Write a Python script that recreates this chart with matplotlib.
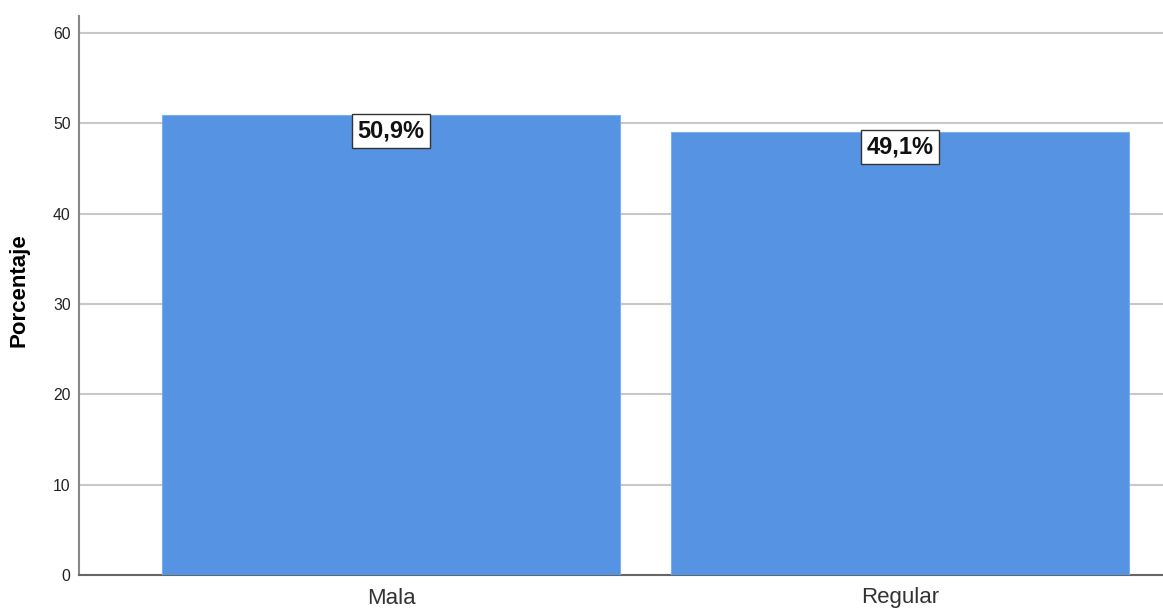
import matplotlib
matplotlib.use("Agg")
import matplotlib.pyplot as plt

categories = ["Mala", "Regular"]
percentages = [50.9, 49.1]
y_ticks = [0, 10, 20, 30, 40, 50, 60]

plt.rcParams['font.family'] = ['Liberation Sans', 'DejaVu Sans']

fig = plt.figure(figsize=(11.63, 6.10), dpi=100)
ax = fig.add_axes([79 / 1163, 1 - 575 / 610, (1163 - 79) / 1163, (575 - 16) / 610])

x = list(range(len(categories)))
ax.bar(x, percentages, width=0.9, color="#5694E3", edgecolor="#7aaeee",
       linewidth=0.8, zorder=3)

for xi, v in zip(x, percentages):
    ax.text(xi, v - 0.45, f"{v:.1f}%".replace(".", ","), ha="center", va="top",
            fontsize=17, fontweight="bold", color="#111111", zorder=5,
            bbox=dict(boxstyle="square,pad=0.24", facecolor="white",
                      edgecolor="#333333", linewidth=1.0))

ax.set_xlim(-0.613, 1.516)
ax.set_ylim(0, 61.9)
ax.set_yticks(y_ticks)
ax.set_xticks(x)
ax.set_xticklabels(categories, fontsize=16, color="#333333")
ax.tick_params(axis="y", labelsize=11.3, length=0, pad=6, colors="#222222")
ax.tick_params(axis="x", length=0, pad=9)
ax.yaxis.grid(True, color="#c8c8c8", linewidth=1.5, zorder=0)
ax.set_axisbelow(True)

for side in ("top", "right"):
    ax.spines[side].set_visible(False)
ax.spines["left"].set_color("#888888")
ax.spines["bottom"].set_color("#666666")
ax.spines["left"].set_linewidth(1.5)
ax.spines["bottom"].set_linewidth(1.5)

ax.set_ylabel("Porcentaje", fontsize=16, fontweight="bold")
ax.yaxis.set_label_coords(-0.046, 0.51)

fig.savefig("out.png", dpi=100, facecolor="white")
